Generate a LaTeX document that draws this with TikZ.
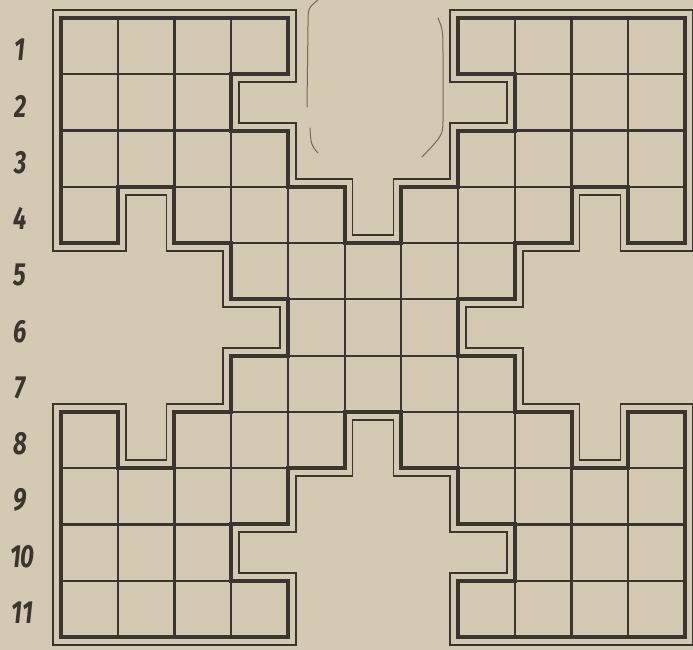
\documentclass[tikz,border=0pt]{standalone}
\usepackage{fontspec}
\setmainfont{Fira Sans}
\definecolor{paper}{HTML}{D4C9B3}
\definecolor{ink}{HTML}{3A3531}
\tikzset{
  rowlab/.style={text=ink, inner sep=0pt, font=\fontsize{32}{32}\selectfont\bfseries\itshape},
  outerband/.style={draw=ink, line width=17.6pt, line join=miter},
  outergap/.style={draw=paper, line width=14pt, line join=miter},
  cellline/.style={draw=ink, line width=2.2pt},
  border/.style={draw=ink, line width=4pt, line join=miter},
  faint/.style={draw=ink!65!paper, line width=1pt, line cap=round}
}
\newcommand\shapepath{(0,0) -- (4,0) -- (4,1) -- (3,1) -- (3,2) -- (4,2) -- (4,3) -- (5,3) -- (5,4) -- (6,4) -- (6,3) -- (7,3) -- (7,2) -- (8,2) -- (8,1) -- (7,1) -- (7,0) -- (11,0) -- (11,4) -- (10,4) -- (10,3) -- (9,3) -- (9,4) -- (8,4) -- (8,5) -- (7,5) -- (7,6) -- (8,6) -- (8,7) -- (9,7) -- (9,8) -- (10,8) -- (10,7) -- (11,7) -- (11,11) -- (7,11) -- (7,10) -- (8,10) -- (8,9) -- (7,9) -- (7,8) -- (6,8) -- (6,7) -- (5,7) -- (5,8) -- (4,8) -- (4,9) -- (3,9) -- (3,10) -- (4,10) -- (4,11) -- (0,11) -- (0,7) -- (1,7) -- (1,8) -- (2,8) -- (2,7) -- (3,7) -- (3,6) -- (4,6) -- (4,5) -- (3,5) -- (3,4) -- (2,4) -- (2,3) -- (1,3) -- (1,4) -- (0,4) -- cycle}
\begin{document}
\begin{tikzpicture}[x=1pt,y=1pt]
\fill[paper] (0,0) rectangle (693,-650);
\useasboundingbox (0,0) rectangle (693,-650);
% faint marks at the top centre
\draw[faint] (318,0) .. controls (308,-8) .. (308,-25) -- (307,-107);
\draw[faint] (310,-128) .. controls (311,-145) .. (318,-153);
\draw[faint] (438,-18) .. controls (443,-30) .. (443,-60) -- (443,-118) .. controls (443,-135) .. (422,-157);
\begin{scope}[shift={(61pt,-18pt)}, x=56.73pt, y=-56.27pt]
  \path[outerband] \shapepath;
  \path[outergap] \shapepath;
  \fill[paper] \shapepath;
  \begin{scope}
    \clip \shapepath;
    \foreach \i in {1,...,10} {
      \draw[cellline] (\i,0) -- (\i,11);
      \draw[cellline] (0,\i) -- (11,\i);
    }
  \end{scope}
  \path[border] \shapepath;
  \foreach \r in {1,...,9} {
    \node[rowlab] (row\r) at (-0.72,\r-0.43) {\scalebox{0.75}[1]{\r}};
  }
  \foreach \r in {10,11} {
    \node[rowlab] (row\r) at (-0.68,\r-0.43) {\scalebox{0.75}[1]{\r}};
  }
\end{scope}
\end{tikzpicture}
\end{document}
